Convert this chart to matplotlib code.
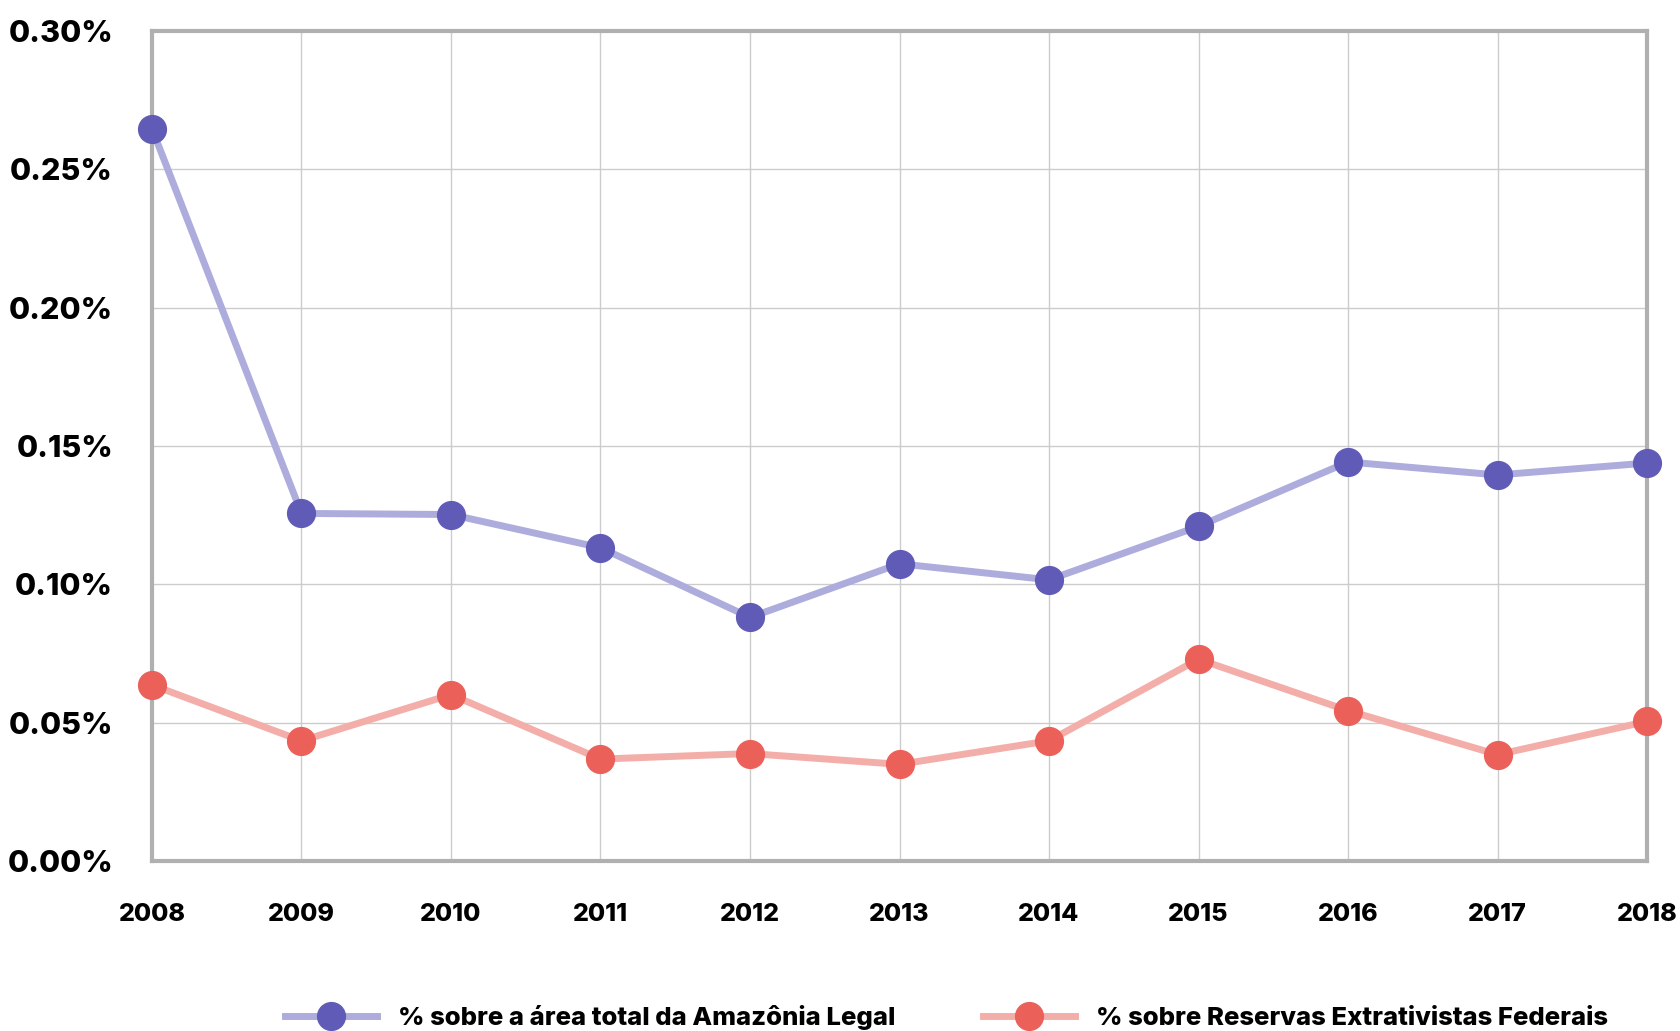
import numpy as np
import matplotlib.pyplot as plt
from matplotlib.ticker import FuncFormatter

plt.rcParams['font.family'] = ['Inter', 'DejaVu Sans']
plt.rcParams['font.weight'] = 'heavy'

anos = [2008, 2009, 2010, 2011, 2012, 2013, 2014, 2015, 2016, 2017, 2018]
amazonia_legal = [0.2647, 0.1256, 0.1252, 0.1132, 0.0880, 0.1074, 0.1016, 0.1209, 0.1442, 0.1395, 0.1438]
resex_federais = [0.0636, 0.0434, 0.0601, 0.0368, 0.0388, 0.0349, 0.0434, 0.0729, 0.0543, 0.0384, 0.0504]
rotulos = ["% sobre a área total da Amazônia Legal", "% sobre Reservas Extrativistas Federais"]

fig = plt.figure(figsize=(16.81, 10.31), dpi=100)
ax = fig.add_axes([0.0904, 0.165, 0.8894, 0.805])

ax.plot(anos, amazonia_legal, color="#aeacdc", lw=5, marker="o", ms=20,
        mfc="#615bb8", mec="#615bb8", label=rotulos[0], clip_on=False, zorder=4)
ax.plot(anos, resex_federais, color="#f4aea9", lw=5, marker="o", ms=20,
        mfc="#ec605a", mec="#ec605a", label=rotulos[1], clip_on=False, zorder=4)

ax.set_xlim(2008, 2018)
ax.set_ylim(0, 0.30)
ax.set_xticks(anos)
ax.set_yticks(np.arange(0, 0.31, 0.05))
ax.yaxis.set_major_formatter(FuncFormatter(lambda v, p: f"{v:.2f}%"))

ax.grid(True, color="#cccccc", lw=1)
ax.set_axisbelow(True)
for s in ax.spines.values():
    s.set_color("#b0b0b0")
    s.set_linewidth(3)
    s.set_zorder(3)

ax.tick_params(axis="y", length=0, pad=28, labelsize=22)
ax.tick_params(axis="x", length=0, pad=30, labelsize=18)

fig.legend(loc="center", bbox_to_anchor=(0.563, 0.013), ncol=2, frameon=False,
           fontsize=18.5, handlelength=3.6, columnspacing=3.4, handletextpad=0.8)

fig.savefig("out.png", dpi=100)
